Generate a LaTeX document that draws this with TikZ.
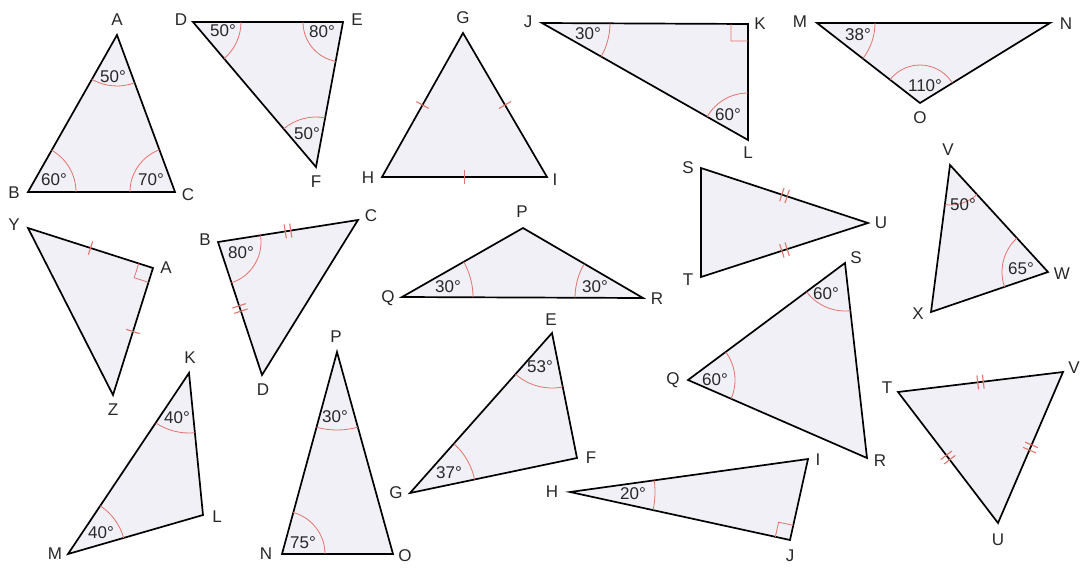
\documentclass[tikz,border=0pt]{standalone}
\usepackage{fontspec}
\setmainfont{Liberation Sans}
\usetikzlibrary{calc}
\definecolor{trifill}{RGB}{241,240,247}
\definecolor{markred}{RGB}{226,116,108}
\definecolor{labgrey}{RGB}{40,40,40}
\tikzset{
  tri/.style={draw=black, fill=trifill, line width=1.7pt, line join=miter},
  angarc/.style={draw=markred, line width=0.8pt},
  tickmark/.style={draw=markred, line width=1.1pt},
  lab/.style={font=\fontsize{17}{17}\selectfont, text=labgrey, inner sep=0pt},
}
\def\angarc(#1)(#2)(#3:#4){\draw[angarc] let \p1=($(#2)-(#1)$), \p2=($(#3)-(#1)$), \n1={atan2(\y1,\x1)}, \n2={atan2(\y2,\x2)}, \n3={mod(\n2-\n1+540,360)-180} in ($(#1)+(\n1:#4pt)$) arc[start angle=\n1, delta angle=\n3, radius=#4pt];}
\def\tick(#1)(#2){\draw[tickmark] ($(#1)!.5!(#2)!7pt!90:(#2)$) -- ($(#1)!.5!(#2)!7pt!-90:(#2)$);}
\def\dtick(#1)(#2){\draw[tickmark] ($(#1)!.5!(#2)!-2.8pt!(#2)!7pt!90:(#2)$) -- ($(#1)!.5!(#2)!-2.8pt!(#2)!7pt!-90:(#2)$) ($(#1)!.5!(#2)!2.8pt!(#2)!7pt!90:(#2)$) -- ($(#1)!.5!(#2)!2.8pt!(#2)!7pt!-90:(#2)$);}
\def\rtang(#1)(#2)(#3:#4){\draw[angarc] ($(#1)!#4pt!(#2)$) -- ($(#1)!#4pt!(#2)+(#1)!#4pt!(#3)-(#1)$) -- ($(#1)!#4pt!(#3)$);}

\begin{document}
\begin{tikzpicture}[x=1pt,y=-1pt]
	\useasboundingbox (0,0) rectangle (1081,568);
	%%%%% START %%%%%
	
	% ABC
	\coordinate (A1) at (117,35);
	\coordinate (B1) at (28,192);
	\coordinate (C1) at (175,192);
	\draw[tri] (A1) -- (B1) -- (C1) -- cycle;
	\angarc(A1)(B1)(C1:51)
	\angarc(B1)(C1)(A1:48)
	\angarc(C1)(A1)(B1:45)
	\node[lab] (lA1) at (117,20) {A};
	\node[lab] (lB1) at (14,193) {B};
	\node[lab] (lC1) at (188,195) {C};
	\node[lab] (gA1) at (113,77) {50°};
	\node[lab] (gB1) at (54,180) {60°};
	\node[lab] (gC1) at (151,180) {70°};
	
	% DEF
	\coordinate (D2) at (193,22);
	\coordinate (E2) at (343,22);
	\coordinate (F2) at (316,167);
	\draw[tri] (D2) -- (E2) -- (F2) -- cycle;
	\angarc(D2)(E2)(F2:48)
	\angarc(E2)(D2)(F2:40)
	\angarc(F2)(D2)(E2:50)
	\node[lab] (lD2) at (181,20) {D};
	\node[lab] (lE2) at (357,20) {E};
	\node[lab] (lF2) at (316,182) {F};
	\node[lab] (gD2) at (223,31) {50°};
	\node[lab] (gE2) at (322,32) {80°};
	\node[lab] (gF2) at (307,134) {50°};
	
	% GHI
	\coordinate (G3) at (463,33);
	\coordinate (H3) at (382,177);
	\coordinate (I3) at (547,177);
	\draw[tri] (G3) -- (H3) -- (I3) -- cycle;
	\tick(G3)(H3)
	\tick(G3)(I3)
	\tick(H3)(I3)
	\node[lab] (lG3) at (463,18) {G};
	\node[lab] (lH3) at (368,178) {H};
	\node[lab] (lI3) at (555,180) {I};
	
	% JKL
	\coordinate (J4) at (542,23);
	\coordinate (K4) at (748,24);
	\coordinate (L4) at (748,140);
	\draw[tri] (J4) -- (K4) -- (L4) -- cycle;
	\angarc(J4)(K4)(L4:68)
	\angarc(L4)(J4)(K4:47)
	\rtang(K4)(J4)(L4:17)
	\node[lab] (lJ4) at (528,22) {J};
	\node[lab] (lK4) at (760,24) {K};
	\node[lab] (lL4) at (748,153) {L};
	\node[lab] (gJ4) at (588,34) {30°};
	\node[lab] (gL4) at (728,115) {60°};
	
	% MNO
	\coordinate (M5) at (817,23);
	\coordinate (N5) at (1050,23);
	\coordinate (O5) at (920,103);
	\draw[tri] (M5) -- (N5) -- (O5) -- cycle;
	\angarc(M5)(N5)(O5:58)
	\angarc(O5)(M5)(N5:38)
	\node[lab] (lM5) at (800,22) {M};
	\node[lab] (lN5) at (1066,24) {N};
	\node[lab] (lO5) at (920,118) {O};
	\node[lab] (gM5) at (858,35) {38°};
	\node[lab] (gO5) at (925,86) {110°};
	
	% YAZ
	\coordinate (Y6) at (28,228);
	\coordinate (A6) at (153,268);
	\coordinate (Z6) at (113,395);
	\draw[tri] (Y6) -- (A6) -- (Z6) -- cycle;
	\tick(Y6)(A6)
	\tick(A6)(Z6)
	\rtang(A6)(Y6)(Z6:15)
	\node[lab] (lY6) at (14,225) {Y};
	\node[lab] (lA6) at (166,268) {A};
	\node[lab] (lZ6) at (113,410) {Z};
	
	% BCD
	\coordinate (B7) at (218,242);
	\coordinate (C7) at (358,220);
	\coordinate (D7) at (262,375);
	\draw[tri] (B7) -- (C7) -- (D7) -- cycle;
	\angarc(B7)(C7)(D7:43)
	\dtick(B7)(C7)
	\dtick(B7)(D7)
	\node[lab] (lB7) at (205,240) {B};
	\node[lab] (lC7) at (371,216) {C};
	\node[lab] (lD7) at (263,390) {D};
	\node[lab] (gB7) at (241,253) {80°};
	
	% PQR
	\coordinate (P8) at (523,228);
	\coordinate (Q8) at (402,297);
	\coordinate (R8) at (643,298);
	\draw[tri] (P8) -- (Q8) -- (R8) -- cycle;
	\angarc(Q8)(R8)(P8:71)
	\angarc(R8)(P8)(Q8:68)
	\node[lab] (lP8) at (522,212) {P};
	\node[lab] (lQ8) at (388,298) {Q};
	\node[lab] (lR8) at (657,299) {R};
	\node[lab] (gQ8) at (448,287) {30°};
	\node[lab] (gR8) at (595,287) {30°};
	
	% STU
	\coordinate (S9) at (701,168);
	\coordinate (T9) at (701,277);
	\coordinate (U9) at (868,223);
	\draw[tri] (S9) -- (T9) -- (U9) -- cycle;
	\dtick(S9)(U9)
	\dtick(T9)(U9)
	\node[lab] (lS9) at (688,168) {S};
	\node[lab] (lT9) at (688,280) {T};
	\node[lab] (lU9) at (881,223) {U};
	
	% VWX
	\coordinate (V10) at (950,165);
	\coordinate (W10) at (1048,272);
	\coordinate (X10) at (931,312);
	\draw[tri] (V10) -- (W10) -- (X10) -- cycle;
	\angarc(V10)(W10)(X10:40)
	\angarc(W10)(X10)(V10:46)
	\node[lab] (lV10) at (948,150) {V};
	\node[lab] (lW10) at (1062,274) {W};
	\node[lab] (lX10) at (918,314) {X};
	\node[lab] (gV10) at (963,205) {50°};
	\node[lab] (gW10) at (1021,269) {65°};
	
	% SQR
	\coordinate (S11) at (845,263);
	\coordinate (Q11) at (688,380);
	\coordinate (R11) at (867,458);
	\draw[tri] (S11) -- (Q11) -- (R11) -- cycle;
	\angarc(S11)(Q11)(R11:48)
	\angarc(Q11)(R11)(S11:47)
	\node[lab] (lS11) at (856,258) {S};
	\node[lab] (lQ11) at (673,380) {Q};
	\node[lab] (lR11) at (880,461) {R};
	\node[lab] (gS11) at (826,294) {60°};
	\node[lab] (gQ11) at (715,380) {60°};
	
	% TUV
	\coordinate (T12) at (898,392);
	\coordinate (V12) at (1063,372);
	\coordinate (U12) at (998,523);
	\draw[tri] (T12) -- (V12) -- (U12) -- cycle;
	\dtick(T12)(V12)
	\dtick(V12)(U12)
	\dtick(T12)(U12)
	\node[lab] (lT12) at (887,388) {T};
	\node[lab] (lV12) at (1074,368) {V};
	\node[lab] (lU12) at (998,540) {U};
	
	% KLM
	\coordinate (K13) at (189,373);
	\coordinate (L13) at (203,515);
	\coordinate (M13) at (68,554);
	\draw[tri] (K13) -- (L13) -- (M13) -- cycle;
	\angarc(K13)(L13)(M13:60)
	\angarc(M13)(K13)(L13:58)
	\node[lab] (lK13) at (190,358) {K};
	\node[lab] (lL13) at (217,517) {L};
	\node[lab] (lM13) at (55,554) {M};
	\node[lab] (gK13) at (177,418) {40°};
	\node[lab] (gM13) at (101,533) {40°};
	
	% PNO
	\coordinate (P14) at (337,352);
	\coordinate (N14) at (282,554);
	\coordinate (O14) at (393,554);
	\draw[tri] (P14) -- (N14) -- (O14) -- cycle;
	\angarc(P14)(N14)(O14:78)
	\angarc(N14)(O14)(P14:43)
	\node[lab] (lP14) at (336,337) {P};
	\node[lab] (lN14) at (266,554) {N};
	\node[lab] (lO14) at (405,556) {O};
	\node[lab] (gP14) at (335,417) {30°};
	\node[lab] (gN14) at (303,543) {75°};
	
	% EFG
	\coordinate (E15) at (552,333);
	\coordinate (F15) at (577,458);
	\coordinate (G15) at (410,493);
	\draw[tri] (E15) -- (F15) -- (G15) -- cycle;
	\angarc(E15)(G15)(F15:55)
	\angarc(G15)(F15)(E15:66)
	\node[lab] (lE15) at (551,320) {E};
	\node[lab] (lF15) at (591,458) {F};
	\node[lab] (lG15) at (396,493) {G};
	\node[lab] (gE15) at (540,367) {53°};
	\node[lab] (gG15) at (449,473) {37°};
	
	% HIJ
	\coordinate (H16) at (570,492);
	\coordinate (I16) at (808,459);
	\coordinate (J16) at (790,540);
	\draw[tri] (H16) -- (I16) -- (J16) -- cycle;
	\angarc(H16)(J16)(I16:85)
	\rtang(J16)(H16)(I16:15)
	\node[lab] (lH16) at (552,492) {H};
	\node[lab] (lI16) at (818,460) {I};
	\node[lab] (lJ16) at (790,556) {J};
	\node[lab] (gH16) at (633,494) {20°};
	
	%%%%% END %%%%%
\end{tikzpicture}
\end{document}
